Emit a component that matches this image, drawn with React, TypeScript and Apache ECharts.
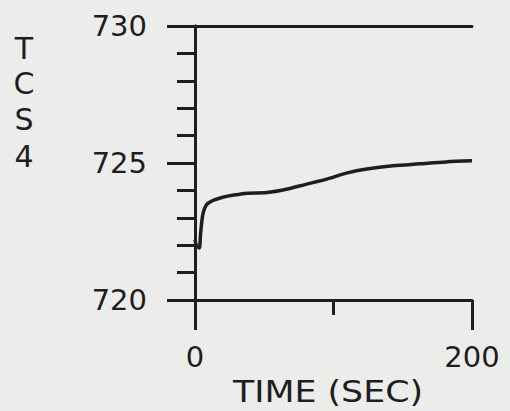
import React, { useEffect, useRef } from "react";
import * as echarts from "echarts";

// TCS4 temperature trace over the first 200 seconds
const timeSec = [0, 1, 3, 4, 5, 6, 8, 10, 14, 20, 28, 38, 52, 66, 80, 95, 110, 124, 143, 162, 181, 200];
const tcs4 = [
  722.2, 722.0, 721.9, 722.4, 722.9, 723.2, 723.45, 723.55, 723.65, 723.75, 723.83, 723.9, 723.92,
  724.04, 724.22, 724.41, 724.64, 724.78, 724.9, 724.97, 725.04, 725.08,
];
const xLabels = ["0", "200"];
const yTitle = ["T", "C", "S", "4"];
const yTitleCenters = [48, 83, 119, 156];
const xTitle = "TIME (SEC)";

const INK = "#1e1e1e";
const FONT = "DejaVu Sans";

export default function App() {
  const ref = useRef<HTMLDivElement>(null);

  useEffect(() => {
    if (!ref.current) return;
    const chart = echarts.init(ref.current, null, { renderer: "svg" });
    const axisLine = { show: true, lineStyle: { color: INK, width: 3 } };
    chart.setOption({
      animation: false,
      backgroundColor: "#ececea",
      grid: { left: 195, right: 38, top: 26, bottom: 111 },
      xAxis: [
        {
          type: "value",
          position: "bottom",
          min: 0,
          max: 200,
          interval: 100,
          axisLine,
          axisTick: { show: true, length: 15, lineStyle: { color: INK, width: 3 } },
          axisLabel: { show: false },
          splitLine: { show: false },
        },
        {
          type: "value",
          position: "bottom",
          min: 0,
          max: 200,
          interval: 200,
          axisLine: { show: false },
          axisTick: { show: true, length: 30, lineStyle: { color: INK, width: 3 } },
          axisLabel: {
            show: true,
            margin: 42,
            fontSize: 29,
            fontFamily: FONT,
            color: INK,
            formatter: (v: number) => (v === 0 ? xLabels[0] : v === 200 ? xLabels[1] : ""),
          },
          splitLine: { show: false },
        },
        {
          type: "value",
          position: "top",
          min: 0,
          max: 200,
          axisLine,
          axisTick: { show: false },
          axisLabel: { show: false },
          splitLine: { show: false },
        },
      ],
      yAxis: [
        {
          type: "value",
          position: "left",
          min: 720,
          max: 730,
          interval: 5,
          axisLine,
          axisTick: { show: true, length: 28, lineStyle: { color: INK, width: 3 } },
          minorTick: { show: true, splitNumber: 5, length: 18, lineStyle: { color: INK, width: 3 } },
          axisLabel: { margin: 48, fontSize: 29, fontFamily: FONT, color: INK },
          splitLine: { show: false },
          minorSplitLine: { show: false },
        },
        {
          type: "value",
          position: "right",
          min: 720,
          max: 730,
          axisLine,
          axisTick: { show: false },
          axisLabel: { show: false },
          splitLine: { show: false },
        },
      ],
      graphic: [
        ...yTitle.map((ch, i) => ({
          type: "text",
          x: 24,
          y: yTitleCenters[i],
          style: {
            text: ch,
            fontSize: 30,
            fontFamily: FONT,
            fill: INK,
            align: "center",
            verticalAlign: "middle",
          },
        })),
        {
          type: "text",
          x: 328,
          y: 392,
          scaleX: 1.16,
          style: {
            text: xTitle,
            fontSize: 30,
            fontFamily: FONT,
            fill: INK,
            align: "center",
            verticalAlign: "middle",
          },
        },
      ],
      series: [
        {
          type: "line",
          xAxisIndex: 0,
          yAxisIndex: 0,
          data: timeSec.map((t, i) => [t, tcs4[i]]),
          smooth: 0.3,
          showSymbol: false,
          lineStyle: { color: INK, width: 3.5 },
        },
      ],
    });
    return () => chart.dispose();
  }, []);

  return (
    <div
      ref={ref}
      style={{ position: "fixed", left: 0, top: 0, width: 510, height: 411 }}
    />
  );
}
